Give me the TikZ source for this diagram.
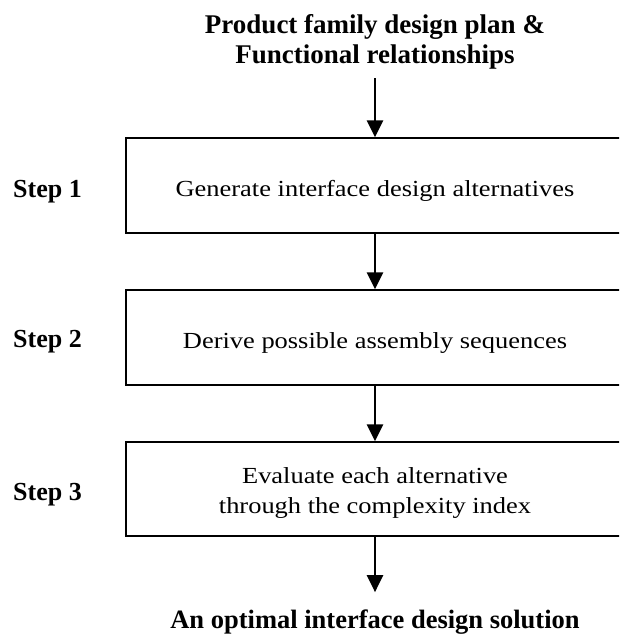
\documentclass[tikz,border=0pt]{standalone}
\usepackage{fontspec}
\setmainfont{Liberation Serif}
\newfontfamily\boxfont[FakeStretch=1.15]{Liberation Serif}
\usetikzlibrary{arrows.meta}
\begin{document}
\begin{tikzpicture}[x=1pt,y=-1pt,
  stepbox/.style={draw,line width=1.3pt,minimum width=498pt,minimum height=95pt,
    inner sep=0pt,align=center,font=\boxfont\fontsize{23}{30}\selectfont},
  oneline/.style={text height=26pt,text depth=5pt},
  steplabel/.style={font=\fontsize{26}{30}\selectfont\bfseries,inner sep=0pt,anchor=base west},
  endtext/.style={font=\fontsize{27}{30}\selectfont\bfseries,align=center,inner sep=0pt},
  flow/.style={line width=2.5pt,-{Triangle[width=16pt,length=17pt]}}]
\useasboundingbox (0,0) rectangle (619,640);
\clip (0,0) rectangle (619,640);

% input and output statements
\node[endtext] (top) at (375,41.8)
  {Product family design plan \&\\Functional relationships};
\node[endtext,font=\fontsize{26.5}{30}\selectfont\bfseries,anchor=base] (bottom) at (375,628)
  {An optimal interface design solution};

% the three steps (right side runs past the page edge)
\node[stepbox,oneline] (box1) at (375,185.5) {Generate interface design alternatives};
\node[stepbox,oneline] (box2) at (375,337.5) {Derive possible assembly sequences};
\node[stepbox,minimum height=94pt] (box3) at (375,489)
  {\rule{0pt}{23pt}Evaluate each alternative\\through the complexity index\rule[-5pt]{0pt}{5pt}};

\node[steplabel] (s1) at (13,197) {Step 1};
\node[steplabel] (s2) at (13,347) {Step 2};
\node[steplabel] (s3) at (13,500) {Step 3};

% flow arrows
\draw[flow,shorten <=9pt] (top.south) -- (box1.north);
\draw[flow] (box1.south) -- (box2.north);
\draw[flow] (box2.south) -- (box3.north);
\draw[flow,shorten >=17pt] (box3.south) -- (bottom.north);
\end{tikzpicture}
\end{document}
